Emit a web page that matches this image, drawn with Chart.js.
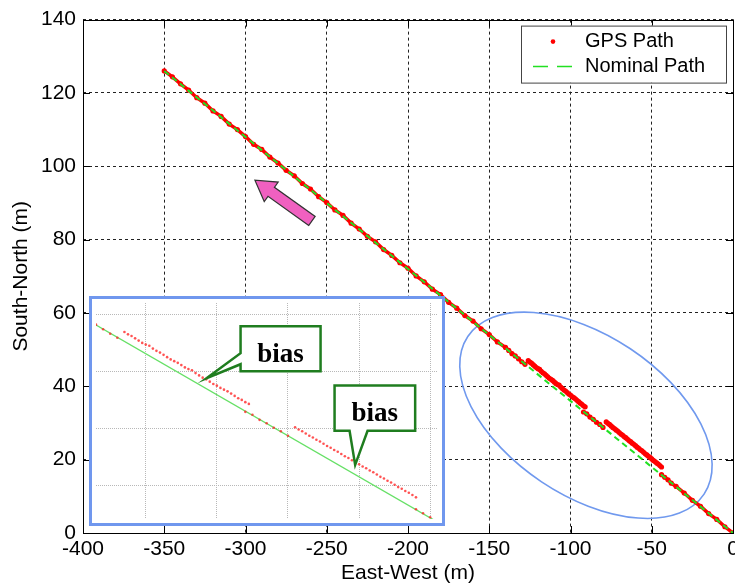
<!DOCTYPE html>
<html>
<head>
<meta charset="utf-8">
<script src="https://cdn.jsdelivr.net/npm/chart.js@4.4.1/dist/chart.umd.min.js"></script>
<style>
  html, body { margin: 0; padding: 0; background: #fff; overflow: hidden; }
  #wrap { position: relative; width: 735px; height: 588px; overflow: hidden; }
  #mainChart { position: absolute; left: 0; top: 0; }
  #insetBox { position: absolute; left: 89px; top: 296px; width: 350px; height: 224px;
              border: 3px solid #7097ee; background: #fff; }
</style>
</head>
<body>
<div id="wrap">
  <canvas id="mainChart" width="760" height="588"></canvas>
  <div id="insetBox"><canvas id="insetChart" width="350" height="224"></canvas></div>
</div>
<script>
// axis ticks
const xTicks = [-400, -350, -300, -250, -200, -150, -100, -50, 0];
const yTicks = [0, 20, 40, 60, 80, 100, 120, 140];
const insetXTicks = [-120, -100, -80, -60, -40];
const insetYTicks = [20, 30, 40, 50];

// GPS path (pieces split where the fix jumps)
const track1X = [-350, -345, -340, -335, -330, -325, -320, -315, -310, -305, -300, -295, -290, -285, -280,
  -275, -270, -265, -260, -255, -250, -245, -240, -235, -230, -225, -220, -215, -210, -205, -200, -195,
  -190, -185, -180, -175, -170, -165, -160, -155, -150, -145, -140, -138, -136, -134, -132, -130, -128];
const track1Y = [126.0, 124.4, 122.5, 120.8, 118.7, 117.2, 115.1, 113.6, 111.5, 110.0, 108.1, 106.0, 104.6, 102.5, 100.9,
  98.9, 97.4, 95.3, 93.8, 91.7, 90.1, 88.1, 86.6, 84.5, 82.9, 80.9, 79.4, 77.3, 75.7, 73.7, 72.2, 70.1,
  68.5, 66.5, 65.0, 62.9, 61.3, 59.3, 57.8, 55.7, 54.1, 52.1, 50.6, 49.8, 48.9, 48.3, 47.5, 46.7, 46.0];

const bias1X = [-126, -125, -124, -123, -122, -121, -120, -119, -118, -117, -116, -115, -114, -113, -112, -111, -110, -109,
  -108, -107, -106, -105, -104, -103, -102, -101, -100, -99, -98, -97, -96, -95, -94, -93, -92, -91];
const bias1Y = [47.0, 46.6, 46.3, 45.9, 45.5, 45.1, 44.8, 44.6, 44.1, 43.7, 43.4, 43.0, 42.6, 42.2, 41.9, 41.6, 41.2, 40.8,
  40.5, 40.3, 39.8, 39.4, 39.0, 38.7, 38.3, 37.9, 37.6, 37.2, 36.9, 36.6, 36.2, 35.8, 35.4, 35.1, 34.7, 34.4];

const track2X = [-92, -90, -88, -86, -84, -82, -80];
const track2Y = [33.0, 32.5, 31.6, 31.0, 30.2, 29.6, 28.8];

const bias2X = [-78, -77, -76, -75, -74, -73, -72, -71, -70, -69, -68, -67, -66, -65, -64, -63, -62, -61,
  -60, -59, -58, -57, -56, -55, -54, -53, -52, -51, -50, -49, -48, -47, -46, -45, -44];
const bias2Y = [30.3, 29.9, 29.6, 29.2, 28.8, 28.5, 28.1, 27.8, 27.4, 27.0, 26.7, 26.3, 26.0, 25.6, 25.2, 24.9, 24.5, 24.2,
  23.8, 23.4, 23.1, 22.7, 22.4, 22.0, 21.6, 21.3, 20.9, 20.6, 20.2, 19.8, 19.5, 19.1, 18.8, 18.4, 18.0];

const track3X = [-44, -42, -40, -38, -35, -30, -25, -20, -15, -10, -5, 0];
const track3Y = [15.9, 15.2, 14.5, 13.6, 12.7, 10.9, 8.9, 7.3, 5.3, 3.7, 1.7, 0.0];

// nominal (straight) path
const nominalX = [-350, 0];
const nominalY = [126, 0];

// build point lists; a null y breaks the drawn line between pieces
function pts(xs, ys) { return xs.map((v, i) => ({ x: v, y: ys[i] })); }
const gap = { x: NaN, y: null };
const gpsPoints = [].concat(pts(track1X, track1Y), [gap], pts(bias1X, bias1Y), [gap],
  pts(track2X, track2Y), [gap], pts(bias2X, bias2Y), [gap], pts(track3X, track3Y));
const nominalPoints = pts(nominalX, nominalY);

const FONT = 'Liberation Sans, Arial, sans-serif';

// annotation anchors (data units)
const ellipseAt = [-90.5, 32.1];
const arrowTail = [-259.1, 85.1];
const arrowTip = [-294.2, 96.2];

const mainMarks = {
  id: 'mainMarks',
  beforeDatasetsDraw(chart) {
    const { ctx, chartArea: a, scales: { x, y } } = chart;
    ctx.save();
    // highlighted region
    ctx.strokeStyle = '#7099ee';
    ctx.lineWidth = 1.6;
    ctx.beginPath();
    ctx.ellipse(x.getPixelForValue(ellipseAt[0]), y.getPixelForValue(ellipseAt[1]), 142, 80, 33.7 * Math.PI / 180, 0, 2 * Math.PI);
    ctx.stroke();
    // inward tick marks + box
    ctx.strokeStyle = '#000';
    ctx.lineWidth = 1;
    ctx.beginPath();
    x.ticks.forEach(t => {
      const px = Math.round(x.getPixelForValue(t.value)) + 0.5;
      ctx.moveTo(px, a.bottom); ctx.lineTo(px, a.bottom - 7);
      ctx.moveTo(px, a.top); ctx.lineTo(px, a.top + 7);
    });
    y.ticks.forEach(t => {
      const py = Math.round(y.getPixelForValue(t.value)) + 0.5;
      ctx.moveTo(a.left, py); ctx.lineTo(a.left + 7, py);
      ctx.moveTo(a.right, py); ctx.lineTo(a.right - 7, py);
    });
    ctx.stroke();
    ctx.strokeRect(Math.round(a.left) + 0.5, Math.round(a.top) + 0.5, Math.round(a.right - a.left), Math.round(a.bottom - a.top));
    ctx.restore();
  },
  afterDraw(chart) {
    const { ctx, chartArea: a, scales: { x, y } } = chart;
    ctx.save();
    // direction arrow
    const x0 = x.getPixelForValue(arrowTail[0]), y0 = y.getPixelForValue(arrowTail[1]);
    const x1 = x.getPixelForValue(arrowTip[0]), y1 = y.getPixelForValue(arrowTip[1]);
    const len = Math.hypot(x1 - x0, y1 - y0);
    ctx.translate(x0, y0);
    ctx.rotate(Math.atan2(y1 - y0, x1 - x0));
    const hw = 5.5, hh = 12, hl = 20;
    ctx.beginPath();
    ctx.moveTo(0, -hw); ctx.lineTo(len - hl, -hw); ctx.lineTo(len - hl, -hh); ctx.lineTo(len, 0);
    ctx.lineTo(len - hl, hh); ctx.lineTo(len - hl, hw); ctx.lineTo(0, hw); ctx.closePath();
    ctx.fillStyle = '#f060c0';
    ctx.fill();
    ctx.strokeStyle = '#333';
    ctx.lineWidth = 1.2;
    ctx.stroke();
    ctx.setTransform(1, 0, 0, 1, 0, 0);

    // legend
    const lx = a.right - 212, ly = a.top + 6, lw = 205, lh = 57;
    ctx.fillStyle = '#fff';
    ctx.fillRect(lx, ly, lw, lh);
    ctx.strokeStyle = '#444';
    ctx.lineWidth = 1;
    ctx.strokeRect(lx + 0.5, ly + 0.5, lw, lh);
    const ds = chart.data.datasets;
    ctx.fillStyle = ds[0].pointBackgroundColor;
    ctx.beginPath(); ctx.arc(lx + 32, ly + 16, 2.3, 0, 2 * Math.PI); ctx.fill();
    ctx.strokeStyle = ds[1].borderColor;
    ctx.lineWidth = 1.5;
    ctx.setLineDash([15, 9]);
    ctx.beginPath(); ctx.moveTo(lx + 12, ly + 41); ctx.lineTo(lx + 52, ly + 41); ctx.stroke();
    ctx.setLineDash([]);
    ctx.fillStyle = '#000';
    ctx.font = '20px ' + FONT;
    ctx.textBaseline = 'middle';
    ctx.fillText(ds[0].label, lx + 64, ly + 16);
    ctx.fillText(ds[1].label, lx + 64, ly + 41);
    ctx.restore();
  }
};

new Chart(document.getElementById('mainChart'), {
  type: 'scatter',
  data: {
    datasets: [
      { label: 'GPS Path', data: gpsPoints, showLine: true, spanGaps: false,
        borderColor: '#ff0000', borderWidth: 3.5, pointRadius: 2.6, pointBackgroundColor: '#ff0000',
        pointBorderWidth: 0, order: 1 },
      { label: 'Nominal Path', data: nominalPoints, showLine: true,
        borderColor: '#22e022', borderWidth: 2, borderDash: [6, 4], pointRadius: 0, order: 0 }
    ]
  },
  options: {
    responsive: false,
    animation: false,
    layout: { padding: { left: 0, top: 18, right: 27, bottom: 0 } },
    plugins: { legend: { display: false }, tooltip: { enabled: false } },
    scales: {
      x: {
        type: 'linear', min: -400, max: 0,
        afterBuildTicks: s => { s.ticks = xTicks.map(v => ({ value: v })); },
        afterFit: s => { s.height = 55; },
        ticks: { font: { size: 21, family: FONT }, color: '#000', padding: 4 },
        grid: { color: '#222', drawTicks: false },
        border: { display: false, dash: [3, 3] },
        title: { display: true, text: 'East-West (m)', color: '#000', font: { size: 21, family: FONT }, padding: 2 }
      },
      y: {
        type: 'linear', min: 0, max: 140,
        afterBuildTicks: s => { s.ticks = yTicks.map(v => ({ value: v })); },
        afterFit: s => { s.width = 83; },
        ticks: { font: { size: 21, family: FONT }, color: '#000', padding: 7 },
        grid: { color: '#222', drawTicks: false },
        border: { display: false, dash: [3, 3] },
        title: { display: true, text: 'South-North (m)', color: '#000', font: { size: 21, family: FONT }, padding: 9 }
      }
    }
  },
  plugins: [mainMarks]
});

// callouts in the zoomed inset: tip in data units, box offset in px from the tip
const callouts = [
  { tip: [-102.9, 38.9], dx: 34, dy: -52, w: 80, h: 45, side: 'left', t0: 27, t1: 38 },
  { tip: [-61.1, 23.7], dx: -20.6, dy: -79.4, w: 80.6, h: 45.4, side: 'bottom', t0: 15, t1: 33 }
];

const calloutPlugin = {
  id: 'callouts',
  afterDraw(chart) {
    const { ctx, scales: { x, y } } = chart;
    ctx.save();
    callouts.forEach(c => {
      const tx = x.getPixelForValue(c.tip[0]), ty = y.getPixelForValue(c.tip[1]);
      const bx = tx + c.dx, by = ty + c.dy;
      ctx.beginPath();
      ctx.moveTo(bx, by);
      ctx.lineTo(bx + c.w, by);
      ctx.lineTo(bx + c.w, by + c.h);
      if (c.side === 'bottom') {
        ctx.lineTo(bx + c.t1, by + c.h);
        ctx.lineTo(tx, ty);
        ctx.lineTo(bx + c.t0, by + c.h);
        ctx.lineTo(bx, by + c.h);
      } else {
        ctx.lineTo(bx, by + c.h);
        ctx.lineTo(bx, by + c.t1);
        ctx.lineTo(tx, ty);
        ctx.lineTo(bx, by + c.t0);
      }
      ctx.closePath();
      ctx.fillStyle = '#fff';
      ctx.fill();
      ctx.strokeStyle = '#1f7d1f';
      ctx.lineWidth = 2.5;
      ctx.lineJoin = 'miter';
      ctx.stroke();
      ctx.fillStyle = '#000';
      ctx.font = 'bold 27px Liberation Serif, Times New Roman, serif';
      ctx.textAlign = 'center';
      ctx.textBaseline = 'alphabetic';
      ctx.fillText('bias', bx + c.w / 2, by + 36);
    });
    ctx.restore();
  }
};

new Chart(document.getElementById('insetChart'), {
  type: 'scatter',
  data: {
    datasets: [
      { label: 'GPS Path', data: gpsPoints, showLine: false, pointRadius: 1.3,
        pointBackgroundColor: 'rgba(255,40,40,0.8)', pointBorderWidth: 0, order: 0 },
      { label: 'Nominal Path', data: nominalPoints, showLine: true,
        borderColor: '#66e066', borderWidth: 1.3, pointRadius: 0, order: 1 }
    ]
  },
  options: {
    responsive: false,
    animation: false,
    layout: { padding: 0 },
    plugins: { legend: { display: false }, tooltip: { enabled: false } },
    scales: {
      x: {
        type: 'linear', min: -134, max: -37.8,
        afterBuildTicks: s => { s.ticks = insetXTicks.map(v => ({ value: v })); },
        ticks: { display: false },
        grid: { color: '#b8b8b8', drawTicks: false },
        border: { display: false, dash: [1, 1] }
      },
      y: {
        type: 'linear', min: 14.2, max: 52.1,
        afterBuildTicks: s => { s.ticks = insetYTicks.map(v => ({ value: v })); },
        ticks: { display: false },
        grid: { color: '#b8b8b8', drawTicks: false },
        border: { display: false, dash: [1, 1] }
      }
    }
  },
  plugins: [calloutPlugin]
});
</script>
</body>
</html>
